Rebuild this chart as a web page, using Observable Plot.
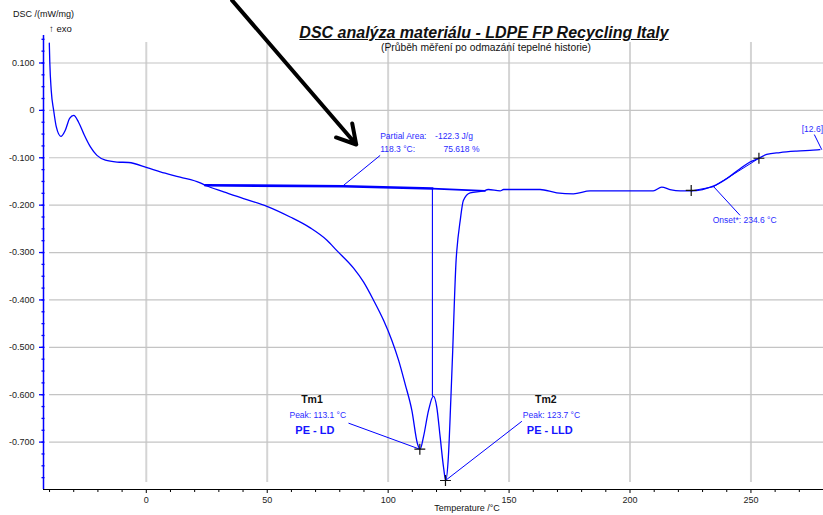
<!DOCTYPE html>
<html>
<head>
<meta charset="utf-8">
<script src="https://cdn.jsdelivr.net/npm/d3@7"></script>
<script src="https://cdn.jsdelivr.net/npm/@observablehq/plot@0.6"></script>
<style>
  body { margin: 0; background: #fff; }
  #wrap { position: relative; width: 823px; height: 515px; overflow: hidden; font-family: "Liberation Sans", Arial, sans-serif; }
  #wrap svg { position: absolute; left: 0; top: 0; }
  .lbl { position: absolute; white-space: nowrap; color: #111; }
</style>
</head>
<body>
<div id="wrap"></div>
<script>
// ---- data ----
const temps = [-40.1, -39.9, -39.3, -38.3, -37.2, -35.3, -33.5, -31.7, -30.0, -28.0, -25.9, -23.1, -20.4, -16.9, -12.1, -7.3, 0.3, 5.8, 14.0, 22.3, 24.4, 32.0, 40.2, 49.9, 59.5, 67.8, 74.7, 78.8, 85.7, 89.8, 93.9, 98.1, 101.5, 104.3, 107.0, 109.8, 112.1, 113.2, 114.6, 116.7, 118.7, 120.1, 121.5, 122.9, 123.8, 124.9, 125.9, 126.7, 127.4, 128.1, 128.4, 129.8, 131.1, 133.9, 139.4, 141.4, 146.3, 147.7, 154.5, 162.8, 169.7, 176.6, 183.5, 197.2, 209.6, 213.1, 216.5, 220.7, 225.1, 230.0, 234.4, 240.0, 245.5, 249.6, 253.0, 256.5, 262.0, 268.9, 275.7, 278.5];
const dsc = [0.142, 0.102, 0.042, 0.0, -0.035, -0.055, -0.042, -0.017, -0.0105, -0.025, -0.049, -0.077, -0.095, -0.105, -0.109, -0.110, -0.121, -0.130, -0.141, -0.153, -0.158, -0.172, -0.186, -0.2025, -0.225, -0.248, -0.274, -0.296, -0.333, -0.362, -0.400, -0.443, -0.485, -0.527, -0.577, -0.633, -0.703, -0.715, -0.689, -0.633, -0.603, -0.626, -0.689, -0.753, -0.781, -0.731, -0.612, -0.506, -0.401, -0.316, -0.295, -0.232, -0.190, -0.174, -0.170, -0.167, -0.170, -0.167, -0.167, -0.167, -0.174, -0.176, -0.170, -0.170, -0.170, -0.162, -0.167, -0.170, -0.170, -0.167, -0.160, -0.144, -0.123, -0.109, -0.102, -0.093, -0.089, -0.086, -0.084, -0.083];

// integration baseline (partial area): thick part up to the split, thin after
const baseT = [24.4, 81.6, 118.3];
const baseDsc = [-0.158, -0.160, -0.165];
const baseT2 = [118.3, 140.0];
const baseDsc2 = [-0.165, -0.170];
// partial area split at 118.3 °C
const splitT = [118.3];
const splitTop = [-0.165];
const splitBottom = [-0.604];
// onset construction (extrapolated baseline + tangent)
const onsetT = [225.3, 234.6, 253.3];
const onsetDsc = [-0.170, -0.161, -0.101];
// markers "+"
const markT = [113.1, 123.7, 225.3, 253.3];
const markDsc = [-0.715, -0.781, -0.169, -0.101];

// axes ticks
const xMajor = [0, 50, 100, 150, 200, 250];
const xMinor = [-40, -30, -20, -10, 10, 20, 30, 40, 60, 70, 80, 90, 110, 120, 130, 140, 160, 170, 180, 190, 210, 220, 230, 240, 260, 270];
const yMajor = [0.1, 0, -0.1, -0.2, -0.3, -0.4, -0.5, -0.6, -0.7];
const yMinor = d3.range(-0.775, 0.16, 0.025).map(v => +v.toFixed(3));

// annotation texts
const blueTexts = [
  {t: 96.7, v: -0.055, s: "Partial Area:"},
  {t: 119.4, v: -0.055, s: "-122.3 J/g"},
  {t: 96.7, v: -0.083, s: "118.3 °C:"},
  {t: 122.9, v: -0.083, s: "75.618 %"},
  {t: 234.2, v: -0.232, s: "Onset*: 234.6 °C"},
  {t: 271.0, v: -0.039, s: "[12.6]"},
  {t: 59.2, v: -0.643, s: "Peak: 113.1 °C"},
  {t: 155.7, v: -0.643, s: "Peak: 123.7 °C"}
];
const boldBlue = [
  {t: 69.7, v: -0.675, s: "PE - LD"},
  {t: 166.8, v: -0.675, s: "PE - LLD"}
];
const boldBlack = [
  {t: 68.5, v: -0.610, s: "Tm1"},
  {t: 165.2, v: -0.610, s: "Tm2"}
];
const leaders = [
  {t1: 96.7, v1: -0.095, t2: 81.6, v2: -0.158},
  {t1: 245.5, v1: -0.2215, t2: 234.4, v2: -0.160},
  {t1: 276.2, v1: -0.051, t2: 279.3, v2: -0.083},
  {t1: 83.6, v1: -0.660, t2: 113.1, v2: -0.715},
  {t1: 155.3, v1: -0.656, t2: 123.7, v2: -0.781}
];
const bigArrow = [{t1: 35.5, v1: 0.232, t2: 86.8, v2: -0.072}];

// ---- build ----
const curve = temps.map((t, i) => ({t, v: dsc[i]}));
const base = baseT.map((t, i) => ({t, v: baseDsc[i]}));
const base2 = baseT2.map((t, i) => ({t, v: baseDsc2[i]}));
const onset = onsetT.map((t, i) => ({t, v: onsetDsc[i]}));
const marks = markT.map((t, i) => ({t, v: markDsc[i]}));
const split = splitT.map((t, i) => ({t, a: splitTop[i], b: splitBottom[i]}));
const fmtY = d => d === 0 ? "0" : d.toFixed(3);
const BLUE = "#0000ff";

const chart = Plot.plot({
  width: 823,
  height: 515,
  marginLeft: 43,
  marginRight: 0,
  marginTop: 35,
  marginBottom: 26,
  x: {domain: [-42.5, 280], axis: null},
  y: {domain: [-0.8, 0.158], axis: null},
  style: {fontFamily: "'Liberation Sans', Arial, sans-serif", background: "white", overflow: "visible"},
  marks: [
    Plot.ruleX(xMajor, {y1: 0.143, y2: -0.785, stroke: "#d4d4d4", strokeWidth: 2}),
    Plot.ruleY(yMajor, {x1: -40, x2: 280, stroke: "#c4c4c4", strokeWidth: 1.2}),
    Plot.ruleY([-0.8], {stroke: "#000", strokeWidth: 1.2}),
    Plot.ruleX([-42.5], {stroke: BLUE, strokeWidth: 1.5}),
    Plot.axisX({ticks: xMajor, tickSize: 4, tickPadding: 3, fontSize: 9, fill: "#222", stroke: "#000", label: null, tickFormat: d => String(d)}),
    Plot.axisX({ticks: xMinor, tickSize: 3, text: null, stroke: "#000", label: null}),
    Plot.axisY({ticks: yMajor, tickSize: 4, tickPadding: 5, fontSize: 9, fill: "#222", stroke: BLUE, strokeWidth: 1.3, label: null, tickFormat: fmtY}),
    Plot.axisY({ticks: yMinor, tickSize: 3, text: null, stroke: BLUE, strokeWidth: 1.3, label: null, dx: 1.5}),
    Plot.line(base, {x: "t", y: "v", stroke: BLUE, strokeWidth: 2.6}),
    Plot.line(base2, {x: "t", y: "v", stroke: BLUE, strokeWidth: 1.8}),
    Plot.ruleX(split, {x: "t", y1: "a", y2: "b", stroke: BLUE, strokeWidth: 1.1}),
    Plot.line(onset, {x: "t", y: "v", stroke: BLUE, strokeWidth: 1}),
    Plot.line(curve, {x: "t", y: "v", stroke: BLUE, strokeWidth: 1.3, curve: "monotone-x"}),
    Plot.link(leaders, {x1: "t1", y1: "v1", x2: "t2", y2: "v2", stroke: BLUE, strokeWidth: 1}),
    Plot.dot(marks, {x: "t", y: "v", symbol: "plus", r: 3.6, stroke: "#111", strokeWidth: 1.2}),
    Plot.text(blueTexts, {x: "t", y: "v", text: "s", textAnchor: "start", fontSize: 8.5, fill: "#2b2bff"}),
    Plot.text(boldBlue, {x: "t", y: "v", text: "s", fontSize: 11, fontWeight: "bold", fill: "#1515ff"}),
    Plot.text(boldBlack, {x: "t", y: "v", text: "s", fontSize: 10.5, fontWeight: "bold", fill: "#111"}),
    Plot.arrow(bigArrow, {x1: "t1", y1: "v1", x2: "t2", y2: "v2", stroke: "#000", strokeWidth: 4, headLength: 8, headAngle: 60})
  ]
});

const wrap = document.getElementById("wrap");
wrap.appendChild(chart);
const addLabel = (html, css) => {
  const d = document.createElement("div");
  d.className = "lbl";
  d.innerHTML = html;
  Object.assign(d.style, css);
  wrap.appendChild(d);
};
addLabel("DSC analýza materiálu - LDPE FP Recycling Italy", {left: "234px", width: "500px", textAlign: "center", top: "23px", fontSize: "16px", lineHeight: "20px", fontWeight: "bold", fontStyle: "italic", textDecoration: "underline"});
addLabel("(Průběh měření po odmazání tepelné historie)", {left: "336px", width: "300px", textAlign: "center", top: "42px", fontSize: "10.3px", lineHeight: "12px"});
addLabel("DSC /(mW/mg)", {left: "13px", top: "9px", fontSize: "9px", lineHeight: "11px"});
addLabel("↑ exo", {left: "49px", top: "23px", fontSize: "9.5px", lineHeight: "12px"});
addLabel("Temperature /°C", {left: "367px", width: "200px", textAlign: "center", top: "503px", fontSize: "9px", lineHeight: "11px"});
</script>
</body>
</html>
